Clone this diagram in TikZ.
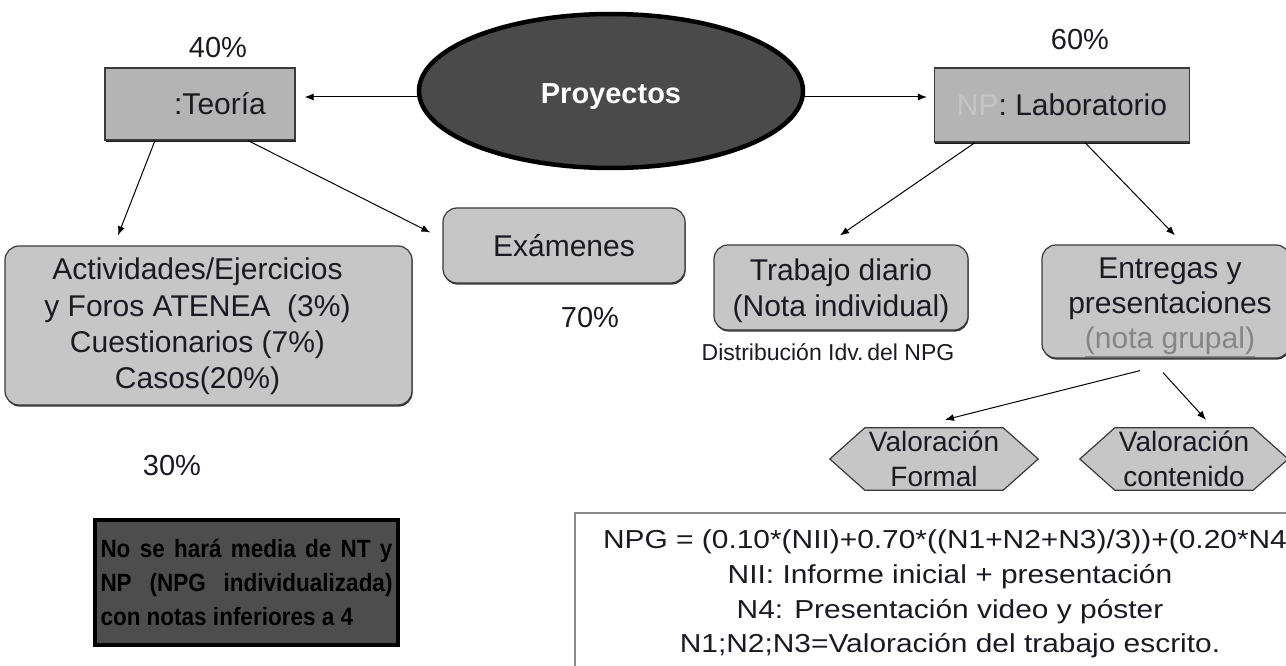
\documentclass[tikz,border=0pt]{standalone}
\usepackage{fontspec}
\setmainfont{Liberation Sans}
\newfontfamily\wideff{Liberation Sans}[FakeStretch=1.15]
\newfontfamily\notefont{Liberation Sans}[FakeStretch=0.9]
\usetikzlibrary{arrows.meta,shadows,backgrounds,shapes.geometric}
\definecolor{boxA}{HTML}{B4B4B4}
\definecolor{boxB}{HTML}{C6C6C6}
\definecolor{edge}{HTML}{3A3A3A}
\definecolor{ellfill}{HTML}{4A4A4A}
\definecolor{notefill}{HTML}{4D4D4D}
\definecolor{txt}{HTML}{1A1A22}
\definecolor{npgray}{HTML}{C4C4C4}
\definecolor{grupal}{HTML}{858585}
\definecolor{fgray}{HTML}{8A8A8A}
\begin{document}
\begin{tikzpicture}[x=1pt,y=-1pt,
  font=\fontsize{30}{36}\selectfont, text=txt,
  sqbox/.style={draw=edge, line width=1.2pt, fill=boxA, inner sep=0pt,
    drop shadow={shadow xshift=0.8pt, shadow yshift=-2.2pt, fill=black, opacity=0.9}},
  rbox/.style={draw=edge, line width=1.2pt, fill=boxB, rounded corners=14pt,
    inner sep=0pt, align=center,
    drop shadow={shadow xshift=0.6pt, shadow yshift=-1.6pt, fill=black, opacity=0.8}},
  hexn/.style={inner sep=0pt, align=center, minimum width=208pt, minimum height=62pt,
    font=\fontsize{28}{35}\selectfont},
  arr/.style={-{Latex[length=9pt,width=7pt]}, line width=1pt, black},
  pct/.style={font=\fontsize{29}{32}\selectfont}
]
\useasboundingbox (0,0) rectangle (1286,666);

% percentages
\node[pct] (p40) at (218,48) {40\%};
\node[pct] (p60) at (1080,40) {60\%};
\node[pct] (p70) at (590,318) {70\%};
\node[pct] (p30) at (172,466) {30\%};

% top row
\node[sqbox, minimum width=190pt, minimum height=72pt] (teo) at (200,104) {\phantom{NT}:Teoría};
\node[ellipse, draw=black, line width=4.5pt, fill=ellfill, minimum width=384pt,
  minimum height=154pt, text=white, font=\bfseries\fontsize{29}{35}\selectfont]
  (proj) at (611,91) {\raisebox{-6pt}[\height][\depth]{Proyectos}};
\node[sqbox, minimum width=255pt, minimum height=74pt] (lab) at (1062,105)
  {\textcolor{npgray}{NP}: Laboratorio};

% second row
\node[rbox, minimum width=407pt, minimum height=159pt] (act) at (208.5,325.5) {};
\node[align=center, font=\fontsize{30}{36.3}\selectfont] (actt) at ([xshift=-11pt,yshift=-1pt]act.center)
  {Actividades/Ejercicios\\y Foros ATENEA~~(3\%)\\Cuestionarios (7\%)\\Casos(20\%)};
\node[rbox, minimum width=242pt, minimum height=75pt] (exa) at (564,245.5) {Exámenes};
\node[rbox, minimum width=254pt, minimum height=85pt] (tra) at (841,287.5) {};
\node[align=center] (trat) at ([yshift=-3pt]tra.center) {Trabajo diario\\(Nota individual)};
\node[font=\fontsize{23}{26}\selectfont] (dist) at (828,352) {Distribución Idv.\,del NPG};
\node[rbox, minimum width=248pt, minimum height=113pt] (ent) at (1166,301.5) {};
\node[align=center, font=\fontsize{30}{35}\selectfont] (entt) at ([xshift=4pt,yshift=-6pt]ent.center)
  {Entregas y\\presentaciones\\\textcolor{grupal}{\underline{(nota grupal)}}};

% hexagons
\node[hexn] (vf) at (934,459) {Valoración\\Formal};
\node[hexn] (vc) at (1184,459) {Valoración\\contenido};
\begin{pgfonlayer}{background}
  \foreach \h in {vf,vc}{
    \draw[draw=edge, fill=boxB, line width=1.2pt]
      (\h.west) -- ([xshift=35pt]\h.north west) -- ([xshift=-35pt]\h.north east)
      -- (\h.east) -- ([xshift=-35pt]\h.south east) -- ([xshift=35pt]\h.south west) -- cycle;
  }
\end{pgfonlayer}

% note box
\node[draw=black, line width=4pt, fill=notefill, minimum width=303pt, minimum height=125pt,
  inner sep=0pt, align=left, text=black, font=\notefont\bfseries\fontsize{25}{34}\selectfont]
  (note) at (246.5,582.5)
  {\makebox[292pt][s]{No se hará media de NT y}\\
   \makebox[292pt][s]{NP (NPG individualizada)}\\
   \makebox[292pt][l]{con notas inferiores a 4}};

% formula box
\node[draw=fgray, line width=1.5pt, fill=white, minimum width=746pt, minimum height=160pt]
  (fbox) at (948,593) {};
\node[align=center, font=\wideff\fontsize{26}{34.7}\selectfont] (ftxt) at (950,594)
  {NPG = (0.10*(NII)+0.70*((N1+N2+N3)/3))+(0.20*N4)\\
   NII: Informe inicial + presentación\\
   N4: Presentación video y póster\\
   N1;N2;N3=Valoración del trabajo escrito.};

% connectors
\draw[arr] ([yshift=-6pt]proj.west) -- ([xshift=9pt,yshift=7pt]teo.east);
\draw[arr] ([yshift=-6pt]proj.east) -- ([xshift=-7pt,yshift=8pt]lab.west);
\draw[arr] ([xshift=-45pt]teo.south) -- ([xshift=-90.5pt,yshift=10pt]act.north);
\draw[arr] ([xshift=48pt]teo.south) -- ([xshift=-12pt,yshift=13pt]exa.west);
\draw[arr] ([xshift=-87pt]lab.south) -- ([xshift=-1pt,yshift=9pt]tra.north);
\draw[arr] ([xshift=23pt]lab.south) -- ([xshift=9pt,yshift=9pt]ent.north);
\draw[arr] ([xshift=-26pt,yshift=-12pt]ent.south) -- ([xshift=11pt,yshift=8pt]vf.north);
\draw[arr] ([xshift=-3pt,yshift=-14pt]ent.south) -- ([xshift=22pt,yshift=8pt]vc.north);
\end{tikzpicture}
\end{document}
